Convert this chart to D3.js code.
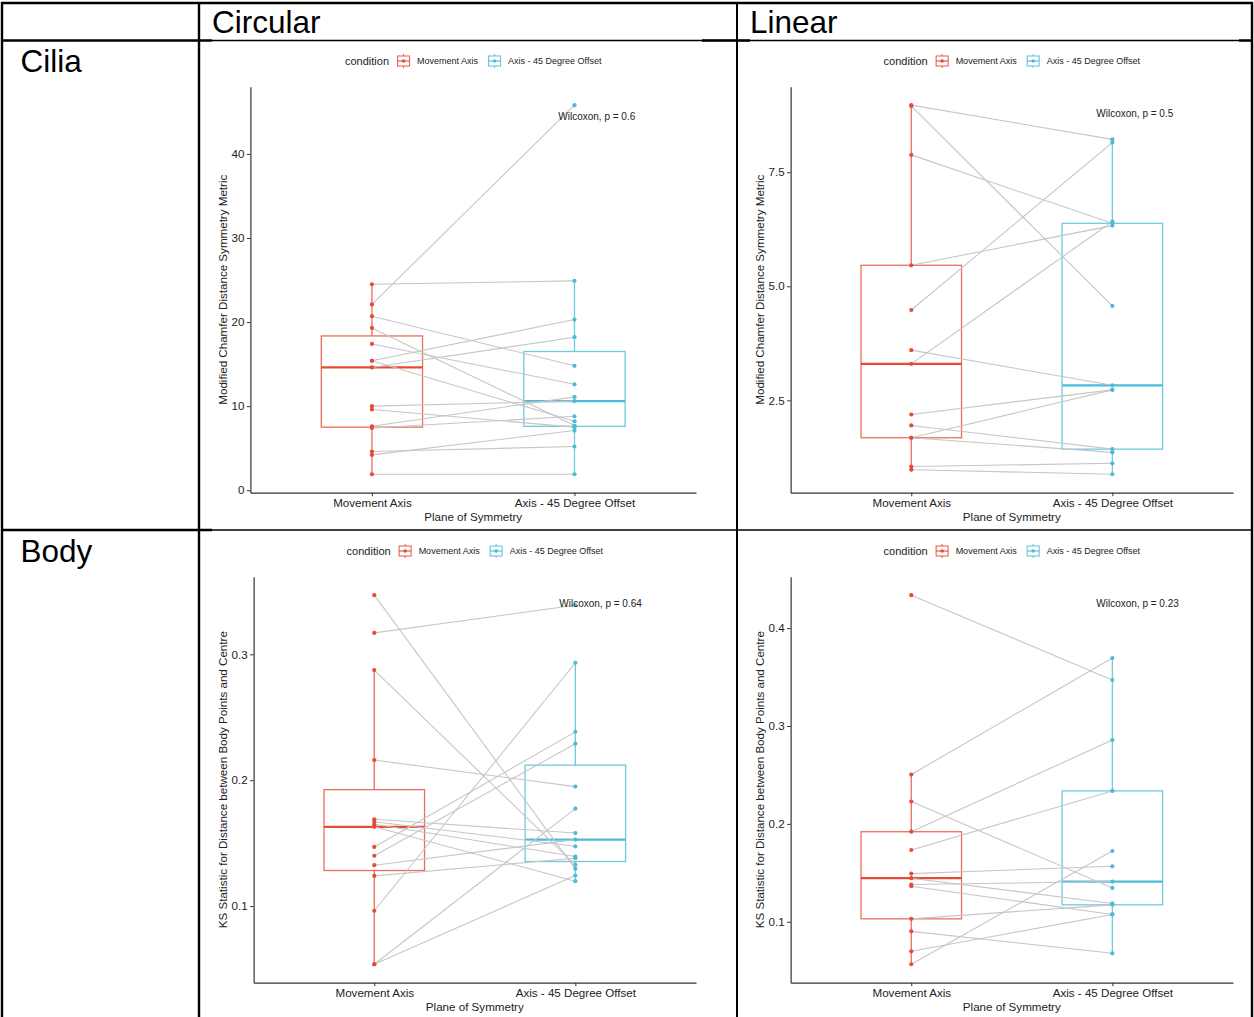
<!DOCTYPE html>
<html><head><meta charset="utf-8">
<script src="https://cdn.jsdelivr.net/npm/d3@7"></script>
<style>
body{margin:0;background:#fff;}
svg{display:block;font-family:"Liberation Sans",Arial,sans-serif;}
</style>
</head><body>
<svg id="c" width="1254" height="1017"></svg>
<script>
// ---------- data ----------
const categories = ["Movement Axis", "Axis - 45 Degree Offset"];
const legendTitle = "condition";
const columnHeaders = ["Circular", "Linear"];
const rowHeaders = ["Cilia", "Body"];
const xAxisTitle = "Plane of Symmetry";
const yTitleCilia = "Modified Chamfer Distance Symmetry Metric";
const yTitleBody = "KS Statistic for Distance between Body Points and Centre";

// paired values (same index = same subject)
const ciliaCircularMovement = [24.5, 22.1, 20.7, 19.3, 17.4, 15.4, 15.4, 14.6, 10.0, 9.6, 7.6, 7.4, 4.6, 4.2, 1.9];
const ciliaCircularOffset   = [24.9, 45.8, 14.8, 7.7, 12.6, 20.3, 8.2, 18.2, 10.6, 7.5, 11.1, 8.8, 5.2, 7.1, 1.9];

const ciliaLinearMovement = [8.97, 8.95, 7.88, 5.46, 4.48, 3.60, 3.30, 2.19, 1.95, 1.68, 1.68, 1.05, 0.98];
const ciliaLinearOffset   = [8.22, 4.57, 6.38, 6.33, 8.15, 2.83, 6.42, 2.73, 1.43, 2.73, 1.36, 1.12, 0.88];

const bodyCircularMovement = [0.347, 0.317, 0.2875, 0.216, 0.169, 0.167, 0.165, 0.163, 0.147, 0.140, 0.1325, 0.124, 0.0963, 0.0538, 0.0538];
const bodyCircularOffset   = [0.1296, 0.339, 0.1328, 0.1949, 0.158, 0.1475, 0.1394, 0.1198, 0.2384, 0.229, 0.1528, 0.138, 0.2933, 0.1774, 0.1243];

const bodyLinearMovement = [0.4337, 0.2504, 0.2229, 0.192, 0.1733, 0.1492, 0.1445, 0.138, 0.1363, 0.103, 0.0902, 0.0698, 0.0566];
const bodyLinearOffset   = [0.347, 0.3695, 0.1346, 0.2857, 0.2337, 0.1567, 0.1187, 0.1411, 0.1075, 0.1173, 0.0678, 0.1075, 0.1723];

const ticksCiliaCircular = [0, 10, 20, 30, 40];
const ticksCiliaLinear = [2.5, 5.0, 7.5];
const ticksBodyCircular = [0.1, 0.2, 0.3];
const ticksBodyLinear = [0.1, 0.2, 0.3, 0.4];

const pValueLabels = ["Wilcoxon, p = 0.6", "Wilcoxon, p = 0.5", "Wilcoxon, p = 0.64", "Wilcoxon, p = 0.23"];
const pValueLabelY = [44.4, 8.79, 0.340, 0.425];
const pValueLabelX = 1.92; // in category units (1 = first category)

// ---------- styling / layout ----------
const colors = ["#E64B35", "#4DBBD5"];
const svg = d3.select("#c");
const FONT = 11.6;

const cellLeft = [200, 737];
const rowTop = [40, 530];

const panels = [
  {col:0,row:0, m:ciliaCircularMovement, o:ciliaCircularOffset, ticks:ticksCiliaCircular, fmt:d3.format("d"), ytitle:yTitleCilia, p:0},
  {col:1,row:0, m:ciliaLinearMovement, o:ciliaLinearOffset, ticks:ticksCiliaLinear, fmt:d3.format(".1f"), ytitle:yTitleCilia, p:1},
  {col:0,row:1, m:bodyCircularMovement, o:bodyCircularOffset, ticks:ticksBodyCircular, fmt:d3.format(".1f"), ytitle:yTitleBody, p:2},
  {col:1,row:1, m:bodyLinearMovement, o:bodyLinearOffset, ticks:ticksBodyLinear, fmt:d3.format(".1f"), ytitle:yTitleBody, p:3}
];

function textWidth(str, size){
  const t = svg.append("text").attr("font-size", size).text(str);
  const w = t.node().getComputedTextLength();
  t.remove();
  return w;
}

function boxStats(arr){
  const s = arr.slice().sort(d3.ascending);
  const q1 = d3.quantile(s, 0.25), med = d3.quantile(s, 0.5), q3 = d3.quantile(s, 0.75);
  const iqr = q3 - q1;
  const lo = d3.min(s.filter(v => v >= q1 - 1.5*iqr));
  const hi = d3.max(s.filter(v => v <= q3 + 1.5*iqr));
  return {q1, med, q3, lo, hi};
}

// ---------- table grid (drawn first; panels sit on top) ----------
const grid = svg.append("g").attr("stroke", "#000");
const thick = 2.4, thin = 1.3;
grid.append("line").attr("x1", 1).attr("x2", 1253).attr("y1", 3).attr("y2", 3).attr("stroke-width", thick);
grid.append("line").attr("x1", 1).attr("x2", 212).attr("y1", 40.5).attr("y2", 40.5).attr("stroke-width", thick);
grid.append("line").attr("x1", 212).attr("x2", 1253).attr("y1", 40.5).attr("y2", 40.5).attr("stroke-width", thin);
grid.append("line").attr("x1", 702).attr("x2", 750).attr("y1", 40.5).attr("y2", 40.5).attr("stroke-width", thick);
grid.append("line").attr("x1", 1239).attr("x2", 1253).attr("y1", 40.5).attr("y2", 40.5).attr("stroke-width", thick);
grid.append("line").attr("x1", 1).attr("x2", 212).attr("y1", 530).attr("y2", 530).attr("stroke-width", thick);
grid.append("line").attr("x1", 212).attr("x2", 1253).attr("y1", 530).attr("y2", 530).attr("stroke-width", thin);
grid.append("line").attr("x1", 2).attr("x2", 2).attr("y1", 2).attr("y2", 1017).attr("stroke-width", thick);
grid.append("line").attr("x1", 199).attr("x2", 199).attr("y1", 2).attr("y2", 1017).attr("stroke-width", thick);
grid.append("line").attr("x1", 737).attr("x2", 737).attr("y1", 2).attr("y2", 1017).attr("stroke-width", 2);
grid.append("line").attr("x1", 1252).attr("x2", 1252).attr("y1", 2).attr("y2", 1017).attr("stroke-width", thick);

panels.forEach(P => {
  const imgL = cellLeft[P.col], top0 = rowTop[P.row];
  const maxTickW = d3.max(P.ticks, t => textWidth(P.fmt(t), FONT));
  const left = imgL + 37.5 + maxTickW;
  const right = imgL + 496;
  const top = top0 + 46.7, bottom = top0 + 452.7;

  const all = P.m.concat(P.o);
  const [mn, mx] = d3.extent(all);
  const pad = (mx - mn) * 0.05;
  const y = d3.scaleLinear().domain([mn - pad, mx + pad]).range([bottom, top]);
  const x = d3.scalePoint().domain(categories).range([left, right]).padding(0.6);
  const step = x.step();
  const boxW = step * 0.5;

  const g = svg.append("g");

  // boxplots
  [P.m, P.o].forEach((vals, gi) => {
    const st = boxStats(vals);
    const cx = x(categories[gi]);
    const bg = g.append("g").attr("stroke", colors[gi]);
    bg.append("line").attr("x1", cx).attr("x2", cx).attr("y1", y(st.q3)).attr("y2", y(st.hi))
      .attr("stroke-width", 1.3).attr("stroke-opacity", 0.8);
    bg.append("line").attr("x1", cx).attr("x2", cx).attr("y1", y(st.q1)).attr("y2", y(st.lo))
      .attr("stroke-width", 1.3).attr("stroke-opacity", 0.8);
    bg.append("rect").attr("x", cx - boxW/2).attr("width", boxW)
      .attr("y", y(st.q3)).attr("height", y(st.q1) - y(st.q3))
      .attr("fill", "#fff").attr("stroke-width", 1.3).attr("stroke-opacity", 0.8);
    bg.append("line").attr("x1", cx - boxW/2).attr("x2", cx + boxW/2)
      .attr("y1", y(st.med)).attr("y2", y(st.med)).attr("stroke-width", 2.2);
  });

  // paired lines
  g.append("g").selectAll("line").data(d3.range(P.m.length)).join("line")
    .attr("x1", x(categories[0])).attr("x2", x(categories[1]))
    .attr("y1", i => y(P.m[i])).attr("y2", i => y(P.o[i]))
    .attr("stroke", "#c6c6c6").attr("stroke-width", 1.1);

  // points
  [P.m, P.o].forEach((vals, gi) => {
    g.append("g").selectAll("circle").data(vals).join("circle")
      .attr("cx", x(categories[gi])).attr("cy", d => y(d)).attr("r", 2.1)
      .attr("fill", colors[gi]);
  });

  // axes
  const ya = g.append("g").attr("transform", `translate(${left},0)`)
    .call(d3.axisLeft(y).tickValues(P.ticks).tickFormat(P.fmt).tickSize(3.5).tickSizeOuter(0).tickPadding(2.5));
  const xa = g.append("g").attr("transform", `translate(0,${bottom})`)
    .call(d3.axisBottom(x).tickSize(3.5).tickSizeOuter(0).tickPadding(3));
  [ya, xa].forEach(a => {
    a.select(".domain").attr("stroke", "#333").attr("stroke-width", 1.2);
    a.selectAll(".tick line").attr("stroke", "#333").attr("stroke-width", 1);
    a.selectAll(".tick text").attr("font-size", FONT).attr("fill", "#222")
      .attr("font-family", '"Liberation Sans",Arial,sans-serif');
  });
  xa.selectAll(".tick text").attr("dy", null).attr("y", 14.2);

  // axis titles
  g.append("text").attr("x", (left + right)/2).attr("y", top0 + 481)
    .attr("text-anchor", "middle").attr("font-size", FONT).attr("fill", "#222").text(xAxisTitle);
  g.append("text").attr("transform", `translate(${imgL + 27},${(top + bottom)/2}) rotate(-90)`)
    .attr("text-anchor", "middle").attr("font-size", FONT).attr("fill", "#222").text(P.ytitle);

  // p-value label
  g.append("text")
    .attr("x", x(categories[0]) + (pValueLabelX - 1) * step)
    .attr("y", y(pValueLabelY[P.p])).attr("dy", "0.35em")
    .attr("font-size", 10).attr("fill", "#222").text(pValueLabels[P.p]);

  // legend
  const titleSize = 11, labSize = 9, keyW = 13, keyBox = 10;
  const tw = textWidth(legendTitle, titleSize);
  const lw = categories.map(c => textWidth(c, labSize));
  const total = tw + 8 + keyW + 7 + lw[0] + 10 + keyW + 7 + lw[1];
  let lx = (left + right)/2 - total/2;
  const ly = top0 + 21;
  const lg = g.append("g");
  lg.append("text").attr("x", lx).attr("y", ly).attr("dy", "0.35em")
    .attr("font-size", titleSize).attr("fill", "#222").text(legendTitle);
  lx += tw + 8;
  categories.forEach((c, gi) => {
    const kc = lx + keyW/2;
    const k = lg.append("g").attr("stroke", colors[gi]);
    k.append("line").attr("x1", kc).attr("x2", kc).attr("y1", ly - 7).attr("y2", ly + 7)
      .attr("stroke-width", 1.1).attr("stroke-opacity", 0.85);
    k.append("rect").attr("x", kc - keyBox/2 - 1).attr("y", ly - 5).attr("width", keyBox + 2).attr("height", 10)
      .attr("fill", "#fff").attr("stroke-width", 1.1).attr("stroke-opacity", 0.85);
    k.append("line").attr("x1", kc - keyBox/2 - 1).attr("x2", kc + keyBox/2 + 1).attr("y1", ly).attr("y2", ly)
      .attr("stroke-width", 1.1);
    lg.append("circle").attr("cx", kc).attr("cy", ly).attr("r", 1.8).attr("fill", colors[gi]);
    lx += keyW + 7;
    lg.append("text").attr("x", lx).attr("y", ly).attr("dy", "0.35em")
      .attr("font-size", labSize).attr("fill", "#222").text(c);
    lx += lw[gi] + 10;
  });
});

// headers
const headerSize = 31.5;
svg.append("g").selectAll("text").data(columnHeaders).join("text")
  .attr("x", (d, i) => cellLeft[i] + (i === 0 ? 12 : 13))
  .attr("y", 33).attr("font-size", headerSize).attr("fill", "#000").text(d => d);
svg.append("g").selectAll("text").data(rowHeaders).join("text")
  .attr("x", 20.5).attr("y", (d, i) => rowTop[i] + 31.5)
  .attr("font-size", headerSize).attr("fill", "#000").text(d => d);
</script>
</body></html>
